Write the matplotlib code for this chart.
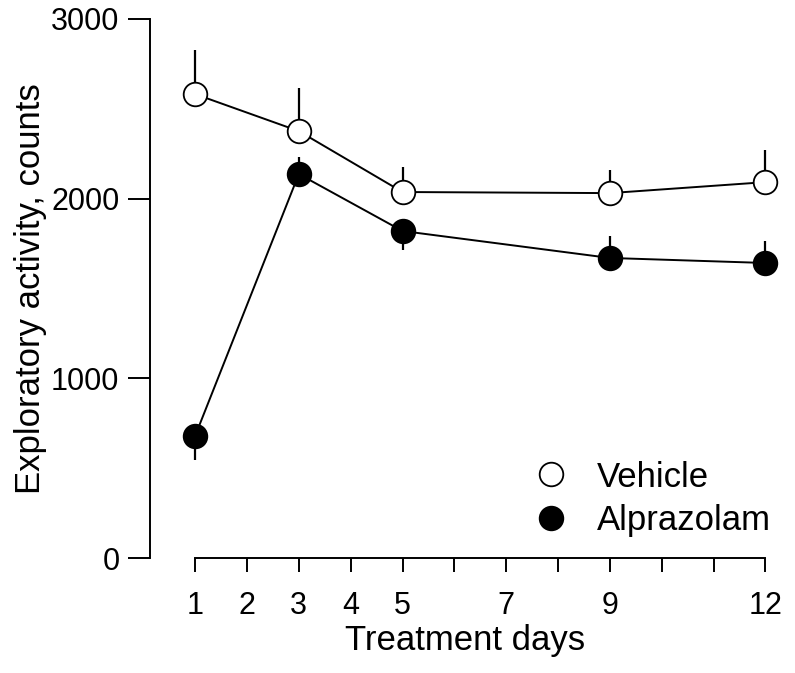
import numpy as np
import matplotlib.pyplot as plt

plt.rcParams['font.family'] = ['Liberation Sans', 'DejaVu Sans']

days = [1, 3, 5, 9, 12]
vehicle = [2582, 2376, 2037, 2031, 2092]
vehicle_err_up = [245, 239, 139, 128, 178]
alpraz = [679, 2137, 1820, 1670, 1642]
alpraz_err_low = [134, 0, 106, 0, 0]
alpraz_err_up = [0, 95, 0, 122, 122]

xticks = list(range(1, 13))
xticklabels = ['1', '2', '3', '4', '5', '', '7', '', '9', '', '', '12']
yticks = [0, 1000, 2000, 3000]

fig = plt.figure(figsize=(7.95, 6.73), dpi=100)
ax = fig.add_axes([150/795, 115/673, 631/795, 539/673])

ax.errorbar(days, vehicle, yerr=[np.zeros(5), vehicle_err_up], fmt='none',
            ecolor='black', elinewidth=1.6, capsize=0, zorder=1)
ax.errorbar(days, alpraz, yerr=[alpraz_err_low, alpraz_err_up], fmt='none',
            ecolor='black', elinewidth=1.6, capsize=0, zorder=1)
ax.plot(days, vehicle, '-o', color='black', lw=1.4, ms=17, mfc='white',
        mec='black', mew=1.3, label='Vehicle', zorder=3, clip_on=False)
ax.plot(days, alpraz, '-o', color='black', lw=1.4, ms=17, mfc='black',
        mec='black', mew=1.3, label='Alprazolam', zorder=3, clip_on=False)

ax.set_xlim(0.13, 12.3)
ax.set_ylim(0, 3000)
ax.spines['top'].set_visible(False)
ax.spines['right'].set_visible(False)
ax.spines['bottom'].set_bounds(1, 12)
ax.spines['left'].set_linewidth(1.4)
ax.spines['bottom'].set_linewidth(1.4)
ax.set_xticks(xticks)
ax.set_xticklabels(xticklabels)
ax.set_yticks(yticks)
ax.tick_params(axis='y', length=16, width=1.4, labelsize=22, pad=6)
ax.tick_params(axis='x', length=10, width=1.4, labelsize=22, pad=14)

ax.set_xlabel('Treatment days', fontsize=25, labelpad=2)
ax.set_ylabel('Exploratory activity, counts', fontsize=25, labelpad=3)

leg = ax.legend(loc='center left', bbox_to_anchor=(0.608, 0.11), frameon=False,
                fontsize=25, handlelength=1.0, handletextpad=0.83,
                labelspacing=0.3, borderpad=0, borderaxespad=0)
for line in leg.get_lines():
    line.set_linestyle('none')

fig.savefig('out.png', dpi=100)
